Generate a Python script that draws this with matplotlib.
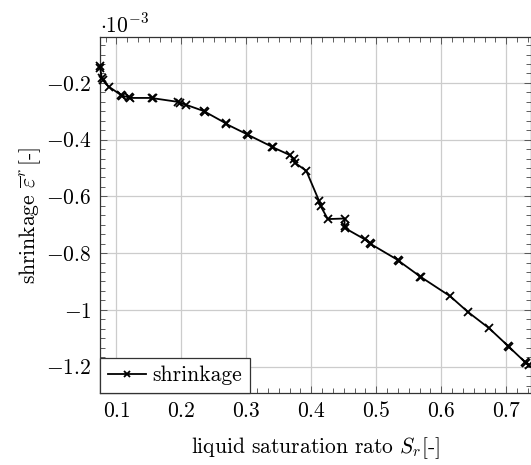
import matplotlib
matplotlib.use('Agg')
import numpy as np
import matplotlib.pyplot as plt
from matplotlib.ticker import AutoMinorLocator

plt.rcParams['font.family'] = 'serif'
plt.rcParams['font.serif'] = ['cmr10']
plt.rcParams['mathtext.fontset'] = 'cm'
plt.rcParams['axes.formatter.use_mathtext'] = True

# liquid saturation ratio and shrinkage (x 1e-3)
sat = [0.0750, 0.0750, 0.0778, 0.0789, 0.0882, 0.1066, 0.1086, 0.1197, 0.1215,
       0.1543, 0.1563, 0.1951, 0.1974, 0.2077, 0.2343, 0.2358, 0.2681, 0.2692,
       0.3010, 0.3025, 0.3395, 0.3409, 0.3666, 0.3728, 0.3751, 0.3923, 0.4120,
       0.4143, 0.4255, 0.4512, 0.4512, 0.4519, 0.4820, 0.4905, 0.4923, 0.5330,
       0.5343, 0.5680, 0.5692, 0.6138, 0.6409, 0.6738, 0.7028, 0.7040, 0.7290,
       0.7305, 0.7358]
shrink = [-0.139, -0.147, -0.184, -0.190, -0.213, -0.242, -0.245, -0.251, -0.253,
          -0.253, -0.254, -0.267, -0.2695, -0.2776, -0.299, -0.301, -0.342, -0.345,
          -0.381, -0.383, -0.425, -0.427, -0.454, -0.470, -0.482, -0.510, -0.616,
          -0.634, -0.680, -0.678, -0.706, -0.712, -0.751, -0.766, -0.769, -0.824,
          -0.827, -0.883, -0.885, -0.952, -1.007, -1.065, -1.127, -1.130, -1.184,
          -1.186, -1.193]

xticks = [0.1, 0.2, 0.3, 0.4, 0.5, 0.6, 0.7]
xticklabels = ['$0.1$', '$0.2$', '$0.3$', '$0.4$', '$0.5$', '$0.6$', '$0.7$']
yticks = [-0.2, -0.4, -0.6, -0.8, -1.0, -1.2]
yticklabels = ['$-0.2$', '$-0.4$', '$-0.6$', '$-0.8$', '$-1$', '$-1.2$']

fs = 15.5
fig = plt.figure(figsize=(5.31, 4.65), dpi=100)
ax = fig.add_axes([100/531., (465-393)/465., 430.5/531., (393-37.5)/465.])

ax.plot(sat, shrink, color='black', lw=1.3, marker='x', ms=5.5, mew=1.3,
        label='shrinkage', zorder=3, clip_on=False)

ax.set_xlim(0.0748, 0.7374)
ax.set_ylim(-1.293, -0.040)
ax.set_xticks(xticks)
ax.set_xticklabels(xticklabels, fontsize=fs)
ax.set_yticks(yticks)
ax.set_yticklabels(yticklabels, fontsize=fs)
ax.xaxis.set_minor_locator(AutoMinorLocator(6))
ax.yaxis.set_minor_locator(AutoMinorLocator(6))
ax.tick_params(which='both', direction='in', top=True, right=True, width=0.6, color='#444444')
ax.tick_params(which='major', length=5, pad=6)
ax.tick_params(which='minor', length=3.5)
ax.grid(True, which='major', color='#cccccc', lw=0.9, zorder=0)
ax.set_axisbelow(True)
for s in ax.spines.values():
    s.set_linewidth(0.9)
    s.set_color('#333333')

ax.set_xlabel('liquid saturation rato $S_r$[-]', fontsize=fs, labelpad=10)
ax.set_ylabel(r'shrinkage $\overline{\varepsilon}^r\,$[-]', fontsize=fs, labelpad=2)
ax.text(0.0, 1.004, r'$\cdot 10^{-3}$', transform=ax.transAxes, fontsize=fs,
        ha='left', va='bottom')

leg = ax.legend(loc='lower left', fontsize=fs, borderaxespad=0, fancybox=False,
                edgecolor='#333333', framealpha=1, handlelength=1.8,
                borderpad=0.35, handletextpad=0.3, markerscale=0.75)
leg.get_frame().set_linewidth(0.9)

plt.savefig('out.png', dpi=100)
